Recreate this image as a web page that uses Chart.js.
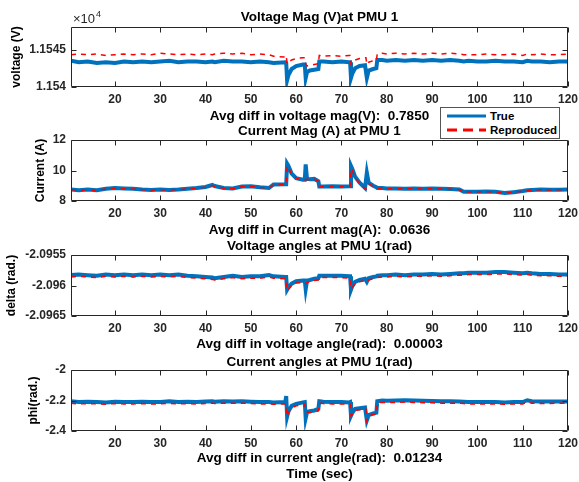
<!DOCTYPE html>
<html>
<head>
<meta charset="utf-8">
<script src="https://cdn.jsdelivr.net/npm/chart.js@4.4.1/dist/chart.umd.min.js"></script>
<style>
  body { margin: 0; background: #fff; }
  #fig { position: relative; width: 579px; height: 482px; background: #fff; overflow: hidden; }
  #fig canvas { position: absolute; left: 0; }
  #legend {
    position: absolute; left: 440px; top: 107px; width: 120px; height: 32px;
    box-sizing: border-box; border: 1px solid #555; background: #fff;
    font: bold 11.5px "Liberation Sans", Arial, sans-serif; color: #000;
  }
  #legend svg { position: absolute; left: 6px; }
  #legend span { position: absolute; left: 49px; line-height: 14px; }
</style>
</head>
<body>
<div id="fig">
  <canvas id="c-volt" width="579" height="124" style="top:0;width:579px;height:124px"></canvas>
  <canvas id="c-curr" width="579" height="122" style="top:118px;width:579px;height:122px"></canvas>
  <canvas id="c-delta" width="579" height="120" style="top:232px;width:579px;height:120px"></canvas>
  <canvas id="c-phi" width="579" height="134" style="top:348px;width:579px;height:134px"></canvas>
  <div id="legend">
    <svg width="40" height="6" style="top:5px"><line x1="0" y1="3" x2="39" y2="3" stroke="#0072BD" stroke-width="3"/></svg>
    <span style="top:1px">True</span>
    <svg width="40" height="6" style="top:19px"><line x1="0" y1="3" x2="39" y2="3" stroke="#FF0000" stroke-width="3" stroke-dasharray="10,6"/></svg>
    <span style="top:15px">Reproduced</span>
  </div>
</div>
<script>
// time axis (sec), shared by all four panels
const time = [10.3, 12, 14, 16, 18, 20, 22, 24, 26, 28, 30, 32, 34, 36, 38, 40, 41.5, 42, 44, 46,
  48, 50, 52, 54, 55, 57.6, 57.8, 58, 58.3, 59, 60, 61.5, 61.9, 62.1, 62.4, 63, 64, 64.9, 65.1, 66,
  68, 70, 71.7, 71.9, 72.1, 72.4, 73, 74, 75.2, 75.4, 75.6, 76, 77, 77.7, 77.9, 79, 80, 82, 84, 86,
  88, 90, 92, 94, 96, 97, 98, 100, 102, 104, 106, 108, 110, 111, 112, 114, 116, 118, 120];

// voltage magnitude (V)
const voltTrue = [11543.5, 11543.3, 11543.4, 11543.2, 11543.3, 11543.2, 11543.4, 11543.3, 11543.4, 11543.3,
  11543.4, 11543.5, 11543.3, 11543.4, 11543.4, 11543.3, 11543.4, 11543.3, 11543.5, 11543.4,
  11543.4, 11543.3, 11543.4, 11543.3, 11543.2, 11543.3, 11543.2, 11540.9, 11541.6, 11542.4,
  11542.8, 11543.0, 11543.0, 11541.2, 11542.0, 11542.2, 11542.3, 11542.4, 11543.4, 11543.4,
  11543.3, 11543.4, 11543.3, 11543.3, 11541.2, 11541.8, 11542.5, 11542.8, 11542.9, 11542.9,
  11541.2, 11542.2, 11542.4, 11542.5, 11543.6, 11543.6, 11543.5, 11543.6, 11543.5, 11543.6,
  11543.5, 11543.6, 11543.5, 11543.6, 11543.5, 11543.4, 11543.5, 11543.4, 11543.4, 11543.5,
  11543.4, 11543.4, 11543.3, 11543.5, 11543.4, 11543.4, 11543.3, 11543.4, 11543.4];
const voltRepro = [11544.3, 11544.4, 11544.3, 11544.4, 11544.2, 11544.3, 11544.4, 11544.3, 11544.4, 11544.3,
  11544.5, 11544.4, 11544.3, 11544.4, 11544.3, 11544.4, 11544.3, 11544.4, 11544.5, 11544.4,
  11544.5, 11544.3, 11544.4, 11544.3, 11544.1, 11544.0, 11544.2, 11543.1, 11543.3, 11543.6,
  11543.8, 11543.9, 11543.9, 11543.0, 11542.8, 11542.9, 11543.0, 11543.1, 11544.2, 11544.1,
  11544.2, 11544.1, 11544.2, 11544.2, 11543.0, 11543.2, 11543.6, 11543.8, 11543.9, 11543.9,
  11543.0, 11543.3, 11543.5, 11543.5, 11544.4, 11544.5, 11544.4, 11544.5, 11544.4, 11544.5,
  11544.4, 11544.5, 11544.4, 11544.5, 11544.4, 11544.3, 11544.3, 11544.3, 11544.4, 11544.3,
  11544.3, 11544.4, 11544.2, 11544.4, 11544.3, 11544.4, 11544.3, 11544.3, 11544.4];

// current magnitude (A)
const currTrue = [8.75, 8.7, 8.75, 8.7, 8.8, 8.85, 8.82, 8.8, 8.75, 8.72,
  8.75, 8.72, 8.75, 8.8, 8.85, 8.92, 9.05, 8.98, 8.85, 8.82,
  8.95, 8.97, 8.9, 8.85, 9.08, 9.1, 9.1, 10.45, 10.3, 9.8,
  9.5, 9.4, 9.4, 10.4, 9.45, 9.42, 9.45, 9.3, 8.95, 8.95,
  8.97, 8.95, 8.97, 8.97, 10.3, 10.1, 9.6, 9.2, 8.85, 8.85,
  9.85, 9.2, 9.0, 8.9, 8.85, 8.85, 8.82, 8.82, 8.8, 8.82,
  8.8, 8.82, 8.8, 8.78, 8.75, 8.6, 8.6, 8.6, 8.62, 8.6,
  8.52, 8.58, 8.65, 8.7, 8.72, 8.75, 8.73, 8.74, 8.76];
const currRepro = [8.74, 8.7, 8.73, 8.69, 8.79, 8.84, 8.81, 8.79, 8.74, 8.71,
  8.74, 8.71, 8.74, 8.79, 8.84, 8.91, 9.02, 8.97, 8.84, 8.81,
  8.94, 8.96, 8.89, 8.84, 9.07, 9.09, 9.09, 10.3, 10.2, 9.75,
  9.48, 9.39, 9.39, 9.4, 9.43, 9.41, 9.43, 9.29, 8.94, 8.94,
  8.96, 8.94, 8.96, 8.96, 10.1, 10.0, 9.55, 9.15, 8.82, 8.78,
  8.8, 9.12, 8.98, 8.89, 8.84, 8.84, 8.81, 8.81, 8.79, 8.81,
  8.79, 8.81, 8.79, 8.77, 8.74, 8.59, 8.59, 8.59, 8.61, 8.59,
  8.51, 8.57, 8.64, 8.69, 8.71, 8.74, 8.72, 8.73, 8.75];

// voltage angle (rad)
const deltaTrue = [-2.09583, -2.09582, -2.09583, -2.09584, -2.09582, -2.09583, -2.09582, -2.09583, -2.09582, -2.09583,
  -2.09582, -2.09583, -2.09582, -2.09584, -2.09585, -2.09586, -2.09587, -2.09588, -2.09586, -2.09584,
  -2.09586, -2.09585, -2.09585, -2.09583, -2.09585, -2.09586, -2.09586, -2.09607, -2.09603, -2.09597,
  -2.09593, -2.09592, -2.09592, -2.09606, -2.09592, -2.09591, -2.09589, -2.09588, -2.09584, -2.09584,
  -2.09584, -2.09584, -2.09585, -2.09585, -2.09607, -2.09601, -2.09594, -2.09591, -2.09589, -2.09589,
  -2.09594, -2.09588, -2.09586, -2.09585, -2.09584, -2.09583, -2.09583, -2.09582, -2.09583, -2.09582,
  -2.09582, -2.09581, -2.09582, -2.09581, -2.0958, -2.0958, -2.09579, -2.09579, -2.09579, -2.09578,
  -2.09578, -2.09579, -2.0958, -2.09579, -2.0958, -2.09581, -2.09581, -2.09582, -2.09582];
const deltaRepro = [-2.09586, -2.09585, -2.09586, -2.09587, -2.09585, -2.09586, -2.09585, -2.09586, -2.09585, -2.09586,
  -2.09585, -2.09586, -2.09585, -2.09587, -2.09588, -2.09589, -2.0959, -2.09591, -2.09589, -2.09587,
  -2.09589, -2.09588, -2.09588, -2.09586, -2.09588, -2.09589, -2.09589, -2.09609, -2.09606, -2.096,
  -2.09596, -2.09595, -2.09595, -2.09597, -2.09595, -2.09594, -2.09592, -2.09591, -2.09587, -2.09587,
  -2.09587, -2.09587, -2.09588, -2.09588, -2.09606, -2.09603, -2.09597, -2.09594, -2.09592, -2.09592,
  -2.09594, -2.09591, -2.09589, -2.09588, -2.09587, -2.09586, -2.09586, -2.09585, -2.09586, -2.09585,
  -2.09585, -2.09584, -2.09585, -2.09584, -2.09583, -2.09583, -2.09582, -2.09582, -2.09582, -2.09581,
  -2.09581, -2.09582, -2.09583, -2.09582, -2.09583, -2.09584, -2.09584, -2.09585, -2.09585];

// current angle (rad)
const phiTrue = [-2.205, -2.21, -2.208, -2.21, -2.212, -2.208, -2.21, -2.21, -2.208, -2.21,
  -2.21, -2.205, -2.21, -2.208, -2.21, -2.207, -2.205, -2.208, -2.205, -2.206,
  -2.205, -2.208, -2.21, -2.21, -2.212, -2.21, -2.17, -2.305, -2.27, -2.235,
  -2.222, -2.212, -2.21, -2.315, -2.275, -2.27, -2.265, -2.255, -2.205, -2.208,
  -2.21, -2.21, -2.212, -2.21, -2.3, -2.28, -2.255, -2.25, -2.245, -2.245,
  -2.33, -2.295, -2.285, -2.28, -2.205, -2.2, -2.202, -2.2, -2.198, -2.2,
  -2.202, -2.203, -2.205, -2.205, -2.206, -2.208, -2.21, -2.21, -2.21, -2.21,
  -2.212, -2.21, -2.21, -2.198, -2.205, -2.207, -2.207, -2.206, -2.206];
const phiRepro = [-2.218, -2.222, -2.22, -2.222, -2.224, -2.22, -2.222, -2.222, -2.22, -2.222,
  -2.222, -2.218, -2.222, -2.22, -2.222, -2.219, -2.217, -2.22, -2.217, -2.218,
  -2.217, -2.22, -2.222, -2.222, -2.224, -2.222, -2.222, -2.305, -2.28, -2.25,
  -2.235, -2.225, -2.222, -2.27, -2.275, -2.278, -2.275, -2.268, -2.218, -2.22,
  -2.222, -2.222, -2.224, -2.222, -2.3, -2.29, -2.265, -2.26, -2.255, -2.255,
  -2.335, -2.3, -2.292, -2.29, -2.217, -2.212, -2.214, -2.212, -2.21, -2.212,
  -2.214, -2.215, -2.217, -2.217, -2.218, -2.22, -2.222, -2.222, -2.222, -2.222,
  -2.224, -2.222, -2.222, -2.21, -2.217, -2.219, -2.219, -2.218, -2.218];

// ticks
const xTicks = [20, 30, 40, 50, 60, 70, 80, 90, 100, 110, 120];
const voltTicks = [11540, 11545];
const voltTickLabels = ['1.154', '1.1545'];
const currTicks = [8, 10, 12];
const currTickLabels = ['8', '10', '12'];
const deltaTicks = [-2.0965, -2.096, -2.0955];
const deltaTickLabels = ['-2.0965', '-2.096', '-2.0955'];
const phiTicks = [-2.4, -2.2, -2];
const phiTickLabels = ['-2.4', '-2.2', '-2'];

const FONT = '"Liberation Sans", Arial, Helvetica, sans-serif';
const INK = '#262626';
const BLUE = '#0072BD';
const RED = '#FF0000';

const toXY = vals => time.map((t, i) => ({ x: t, y: vals[i] }));

// MATLAB style box with inward ticks on all four sides
const boxFrame = {
    id: 'boxFrame',
    afterDraw(chart) {
        const { ctx, chartArea: a, scales: { x, y } } = chart;
        const L = Math.round(a.left) + 0.5, R = Math.round(a.right) - 0.5;
        const T = Math.round(a.top) + 0.5, B = Math.round(a.bottom) - 0.5;
        ctx.save();
        ctx.strokeStyle = INK;
        ctx.lineWidth = 1;
        ctx.beginPath();
        ctx.rect(L, T, R - L, B - T);
        x.ticks.forEach(t => {
            const px = Math.round(x.getPixelForValue(t.value)) + 0.5;
            ctx.moveTo(px, B); ctx.lineTo(px, B - 5);
            ctx.moveTo(px, T); ctx.lineTo(px, T + 5);
        });
        y.ticks.forEach(t => {
            const py = Math.round(y.getPixelForValue(t.value)) + 0.5;
            ctx.moveTo(L, py); ctx.lineTo(L + 5, py);
            ctx.moveTo(R, py); ctx.lineTo(R - 5, py);
        });
        ctx.stroke();
        ctx.restore();
    }
};

// the "x10^4" exponent label over the first panel
const expLabel = {
    id: 'expLabel',
    afterDraw(chart) {
        const ctx = chart.ctx;
        ctx.save();
        ctx.fillStyle = INK;
        ctx.textBaseline = 'alphabetic';
        ctx.font = '13px ' + FONT;
        ctx.fillText('\u00d710', 73, 23);
        ctx.font = '9px ' + FONT;
        ctx.fillText('4', 96, 17);
        ctx.restore();
    }
};

function makePanel(id, p) {
    return new Chart(document.getElementById(id), {
        type: 'line',
        data: {
            datasets: [
                { label: 'True', data: toXY(p.trueVals), borderColor: BLUE, borderWidth: 4, order: 1 },
                { label: 'Reproduced', data: toXY(p.reproVals), borderColor: RED, borderWidth: 1.5, borderDash: [5, 5], order: 0 }
            ]
        },
        options: {
            responsive: false,
            animation: false,
            events: [],
            layout: { padding: { left: 0, right: 11, top: 0, bottom: 0 } },
            elements: { point: { radius: 0 }, line: { tension: 0 } },
            plugins: {
                legend: { display: false },
                tooltip: { enabled: false },
                title: {
                    display: true, text: p.title, color: '#000', fullSize: false,
                    font: { family: FONT, size: 13.5, weight: 'bold', lineHeight: 1.2 },
                    padding: { top: p.titleTop, bottom: p.titleBottom }
                }
            },
            scales: {
                x: {
                    type: 'linear', min: 10.3, max: 120,
                    grid: { display: false, drawTicks: false },
                    border: { display: false },
                    ticks: { padding: 5, color: INK, maxRotation: 0, autoSkip: false,
                        font: { family: FONT, size: 12, weight: 'bold' } },
                    afterBuildTicks: s => { s.ticks = xTicks.map(v => ({ value: v })); },
                    afterFit: s => { s.height = p.xHeight; s.paddingLeft = 0; s.paddingRight = 0; },
                    title: {
                        display: true, text: p.xLabel, color: '#000',
                        font: { family: FONT, size: 13.5, weight: 'bold', lineHeight: p.xLine || 1.2 },
                        padding: { top: 0, bottom: p.xPad }
                    }
                },
                y: {
                    type: 'linear', min: p.yMin, max: p.yMax,
                    grid: { display: false, drawTicks: false },
                    border: { display: false },
                    ticks: { padding: 5, color: INK, font: { family: FONT, size: 12, weight: 'bold' },
                        callback: (v, i) => p.tickLabels[i] },
                    afterBuildTicks: s => { s.ticks = p.ticks.map(v => ({ value: v })); },
                    afterFit: s => { s.width = 71; },
                    title: {
                        display: true, text: p.yLabel, color: '#000',
                        font: { family: FONT, size: 12, weight: 'bold' },
                        padding: { top: p.yPad, bottom: 0 }
                    }
                }
            }
        },
        plugins: p.extra ? [boxFrame, p.extra] : [boxFrame]
    });
}

makePanel('c-volt', {
    title: 'Voltage Mag (V)at PMU 1', titleTop: 8.9, titleBottom: 1.9,
    trueVals: voltTrue, reproVals: voltRepro,
    yMin: 11540, yMax: 11548, ticks: voltTicks, tickLabels: voltTickLabels,
    yLabel: 'voltage (V)', yPad: 9.3,
    xLabel: 'Avg diff in voltage mag(V):  0.7850', xHeight: 37, xPad: 0,
    extra: expLabel
});

makePanel('c-curr', {
    title: 'Current Mag (A) at PMU 1', titleTop: 5.4, titleBottom: 0.4,
    trueVals: currTrue, reproVals: currRepro,
    yMin: 8, yMax: 12, ticks: currTicks, tickLabels: currTickLabels,
    yLabel: 'Current (A)', yPad: 33,
    xLabel: 'Avg diff in Current mag(A):  0.0636', xHeight: 39, xPad: 1.9
});

makePanel('c-delta', {
    title: 'Voltage angles at PMU 1(rad)', titleTop: 5.9, titleBottom: 0.9,
    trueVals: deltaTrue, reproVals: deltaRepro,
    yMin: -2.0965, yMax: -2.0955, ticks: deltaTicks, tickLabels: deltaTickLabels,
    yLabel: 'delta (rad.)', yPad: 4,
    xLabel: 'Avg diff in voltage angle(rad):  0.00003', xHeight: 36, xPad: 0
});

makePanel('c-phi', {
    title: 'Current angles at PMU 1(rad)', titleTop: 5.9, titleBottom: 0,
    trueVals: phiTrue, reproVals: phiRepro,
    yMin: -2.4, yMax: -2, ticks: phiTicks, tickLabels: phiTickLabels,
    yLabel: 'phi(rad.)', yPad: 26.4,
    xLabel: ['Avg diff in current angle(rad):  0.01234', 'Time (sec)'], xLine: 1.15, xHeight: 51, xPad: 0
});
</script>
</body>
</html>
